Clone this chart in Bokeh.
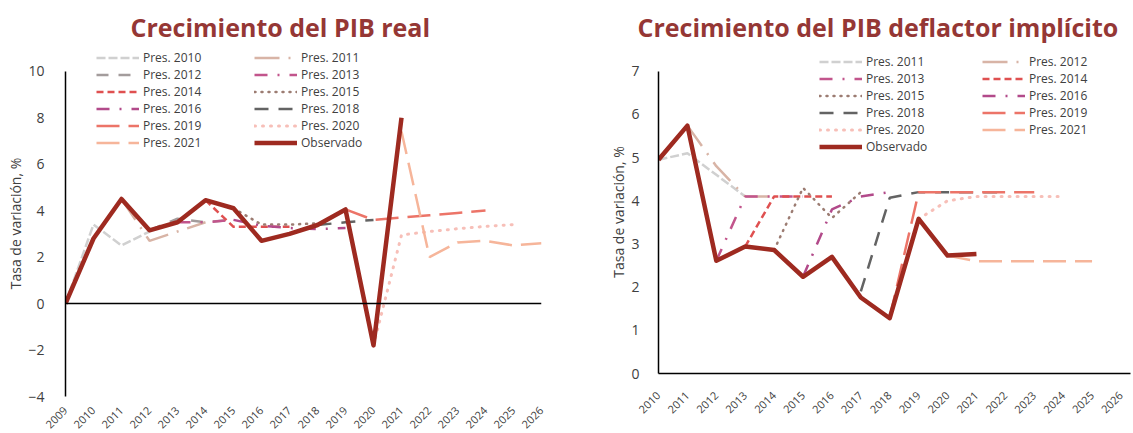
import math
from bokeh.plotting import figure
from bokeh.models import Legend, LegendItem, Span, FixedTicker
from bokeh.layouts import row
from bokeh.embed import file_html
from bokeh.resources import INLINE

# ---------------- Data: Crecimiento del PIB real ----------------
real_axis_years = list(range(2009, 2027))
real_yticks = [-4, -2, 0, 2, 4, 6, 8, 10]

real_obs_years = list(range(2009, 2022))
real_obs = [0.0, 2.8, 4.5, 3.15, 3.5, 4.45, 4.1, 2.7, 3.0, 3.38, 4.05, -1.8, 8.0]

real_p2010_years = [2009, 2010, 2011, 2012]
real_p2010 = [0.0, 3.4, 2.5, 3.1]
real_p2011_years = [2011, 2012, 2013, 2014]
real_p2011 = [4.5, 2.7, 3.1, 3.5]
real_p2012_years = [2012, 2013, 2014, 2015]
real_p2012 = [3.15, 3.65, 3.5, 3.6]
real_p2013_years = [2013, 2014, 2015]
real_p2013 = [3.5, 3.5, 3.6]
real_p2014_years = [2014, 2015, 2016, 2017]
real_p2014 = [4.45, 3.3, 3.3, 3.3]
real_p2015_years = [2015, 2016, 2017, 2018]
real_p2015 = [4.1, 3.4, 3.4, 3.45]
real_p2016_years = [2015, 2016, 2017, 2018, 2019]
real_p2016 = [3.6, 3.35, 3.25, 3.2, 3.25]
real_p2018_years = [2018, 2019, 2020]
real_p2018 = [3.38, 3.5, 3.6]
real_p2019_years = [2019, 2020, 2021, 2022, 2023, 2024]
real_p2019 = [4.05, 3.6, 3.7, 3.8, 3.9, 4.0]
real_p2020_years = [2020, 2021, 2022, 2023, 2024, 2025]
real_p2020 = [-1.8, 2.95, 3.1, 3.22, 3.32, 3.4]
real_p2021_years = [2021, 2022, 2023, 2024, 2025, 2026]
real_p2021 = [7.4, 2.0, 2.63, 2.7, 2.5, 2.6]

# ---------------- Data: Crecimiento del PIB deflactor implícito ----------------
defl_axis_years = list(range(2010, 2027))
defl_yticks = [0, 1, 2, 3, 4, 5, 6, 7]

defl_obs_years = list(range(2010, 2022))
defl_obs = [4.95, 5.74, 2.61, 2.94, 2.86, 2.24, 2.70, 1.76, 1.28, 3.58, 2.73, 2.77]

defl_p2011_years = [2010, 2011, 2012, 2013]
defl_p2011 = [4.95, 5.1, 4.6, 4.1]
defl_p2012_years = [2011, 2012, 2013, 2014]
defl_p2012 = [5.74, 4.8, 4.1, 4.1]
defl_p2013_years = [2012, 2013, 2014, 2015]
defl_p2013 = [2.61, 4.1, 4.1, 4.1]
defl_p2014_years = [2013, 2014, 2015, 2016]
defl_p2014 = [2.94, 4.1, 4.1, 4.1]
defl_p2015_years = [2014, 2015, 2016, 2017]
defl_p2015 = [2.86, 4.3, 3.6, 4.2]
defl_p2016_years = [2015, 2016, 2017, 2018]
defl_p2016 = [2.24, 3.8, 4.1, 4.2]
defl_p2018_years = [2017, 2018, 2019, 2020, 2021, 2022]
defl_p2018 = [1.9, 4.07, 4.2, 4.2, 4.2, 4.2]
defl_p2019_years = [2018, 2019, 2020, 2021, 2022, 2023]
defl_p2019 = [1.3, 4.2, 4.2, 4.2, 4.2, 4.2]
defl_p2020_years = [2019, 2020, 2021, 2022, 2023, 2024]
defl_p2020 = [3.58, 4.0, 4.1, 4.1, 4.1, 4.1]
defl_p2021_years = [2020, 2021, 2022, 2023, 2024, 2025]
defl_p2021 = [2.73, 2.6, 2.6, 2.6, 2.6, 2.6]

# ---------------- Styles ----------------
FONT = "Open Sans"
TXT = "#404040"
STY = {
    "lgray":  dict(line_color="#D0D0D0", line_dash="9 3", line_width=2.5),
    "tan":    dict(line_color="#D8B4A6", line_dash="25 9 2 9", line_width=2.5),
    "mgray":  dict(line_color="#A39C9C", line_dash="12 10", line_width=2.5),
    "mag1":   dict(line_color="#C2558C", line_dash="13 10 2 10", line_width=2.5),
    "red":    dict(line_color="#DF5050", line_dash="7 4", line_width=2.5),
    "brown":  dict(line_color="#9C7C72", line_dash="1 6", line_width=2.5, line_cap="round"),
    "mag2":   dict(line_color="#B24A8A", line_dash="13 10 2 10", line_width=2.5),
    "dgray":  dict(line_color="#636363", line_dash="14 10", line_width=2.5),
    "salmon": dict(line_color="#EC7468", line_dash="23 9", line_width=2.5),
    "pink":   dict(line_color="#F7BFB8", line_dash="1 7", line_width=3, line_cap="round"),
    "peach":  dict(line_color="#F6B59A", line_dash="23 9", line_width=2.5),
    "obs":    dict(line_color="#9E2A20", line_width=4.5, line_join="round"),
}


def make_fig(title, xr, yr, ybounds, xticks, yticks, frame_w, frame_h, bl, br, bb,
             title_offset, xlab_standoff, ylab_standoff, xaxis_line):
    p = figure(x_range=xr, y_range=yr,
               frame_width=frame_w, frame_height=frame_h,
               output_backend="svg", toolbar_location=None,
               min_border_left=bl, min_border_right=br, min_border_top=50,
               min_border_bottom=bb)
    p.title.text = title
    p.title.text_font = FONT
    p.title.text_font_size = "25px"
    p.title.text_font_style = "bold"
    p.title.text_color = "#953735"
    p.title.align = "left"
    p.title.offset = title_offset
    p.title.standoff = 14
    p.outline_line_color = None
    p.xgrid.visible = False
    p.ygrid.visible = False
    p.background_fill_color = "white"

    p.xaxis.ticker = FixedTicker(ticks=xticks)
    p.xaxis.major_label_orientation = math.pi / 4
    p.xaxis.major_label_text_font = FONT
    p.xaxis.major_label_text_font_size = "11px"
    p.xaxis.major_label_text_color = TXT
    p.xaxis.major_tick_line_color = None
    p.xaxis.minor_tick_line_color = None
    p.xaxis.major_label_standoff = xlab_standoff
    if xaxis_line:
        p.xaxis.axis_line_color = "black"
        p.xaxis.axis_line_width = 1.5
    else:
        p.xaxis.axis_line_color = None

    p.yaxis.ticker = FixedTicker(ticks=yticks)
    p.yaxis.bounds = ybounds
    p.yaxis.major_label_text_font = FONT
    p.yaxis.major_label_text_font_size = "14px"
    p.yaxis.major_label_text_color = TXT
    p.yaxis.major_tick_line_color = None
    p.yaxis.minor_tick_line_color = None
    p.yaxis.major_label_standoff = ylab_standoff
    p.yaxis.axis_line_color = "black"
    p.yaxis.axis_line_width = 1.5
    p.yaxis.axis_label = "Tasa de variación, %"
    p.yaxis.axis_label_text_font = FONT
    p.yaxis.axis_label_text_font_size = "14px"
    p.yaxis.axis_label_text_font_style = "normal"
    p.yaxis.axis_label_text_color = TXT
    p.yaxis.axis_label_standoff = 0
    return p


def add_legend(p, items, loc):
    lg = Legend(items=items, location=loc, orientation="vertical",
                glyph_width=43, glyph_height=15, label_height=15, spacing=0,
                padding=0, margin=0, label_standoff=4,
                border_line_color=None, background_fill_alpha=0,
                label_text_font=FONT, label_text_font_size="12px",
                label_text_color=TXT)
    p.add_layout(lg)


# ---------------- Left chart ----------------
p1 = make_fig("Crecimiento del PIB real", (2009, 2026), (-4, 10.89), (-4, 10),
              real_axis_years, real_yticks, 476, 346, 65, 22, 33, 65, 6, 15, False)
p1.add_layout(Span(location=0, dimension="width", line_color="black", line_width=1.5))

real_series = [
    ("Pres. 2010", real_p2010_years, real_p2010, "lgray"),
    ("Pres. 2011", real_p2011_years, real_p2011, "tan"),
    ("Pres. 2012", real_p2012_years, real_p2012, "mgray"),
    ("Pres. 2013", real_p2013_years, real_p2013, "mag1"),
    ("Pres. 2014", real_p2014_years, real_p2014, "red"),
    ("Pres. 2015", real_p2015_years, real_p2015, "brown"),
    ("Pres. 2016", real_p2016_years, real_p2016, "mag2"),
    ("Pres. 2018", real_p2018_years, real_p2018, "dgray"),
    ("Pres. 2019", real_p2019_years, real_p2019, "salmon"),
    ("Pres. 2020", real_p2020_years, real_p2020, "pink"),
    ("Pres. 2021", real_p2021_years, real_p2021, "peach"),
    ("Observado", real_obs_years, real_obs, "obs"),
]
r1 = {}
for lab, xs, ys, st in real_series:
    r1[lab] = p1.line(xs, ys, **STY[st])

col_a = ["Pres. 2010", "Pres. 2012", "Pres. 2014", "Pres. 2016", "Pres. 2019", "Pres. 2021"]
col_b = ["Pres. 2011", "Pres. 2013", "Pres. 2015", "Pres. 2018", "Pres. 2020", "Observado"]
add_legend(p1, [LegendItem(label=l, renderers=[r1[l]]) for l in col_a], (31, 245))
add_legend(p1, [LegendItem(label=l, renderers=[r1[l]]) for l in col_b], (189, 245))

# ---------------- Right chart ----------------
p2 = make_fig("Crecimiento del PIB deflactor implícito", (2010, 2026.33), (0, 7.48), (0, 7),
              defl_axis_years, defl_yticks, 472, 323, 95, 1, 56, -21, 14, 13, True)

defl_series = [
    ("Pres. 2011", defl_p2011_years, defl_p2011, "lgray"),
    ("Pres. 2012", defl_p2012_years, defl_p2012, "tan"),
    ("Pres. 2013", defl_p2013_years, defl_p2013, "mag1"),
    ("Pres. 2014", defl_p2014_years, defl_p2014, "red"),
    ("Pres. 2015", defl_p2015_years, defl_p2015, "brown"),
    ("Pres. 2016", defl_p2016_years, defl_p2016, "mag2"),
    ("Pres. 2018", defl_p2018_years, defl_p2018, "dgray"),
    ("Pres. 2019", defl_p2019_years, defl_p2019, "salmon"),
    ("Pres. 2020", defl_p2020_years, defl_p2020, "pink"),
    ("Pres. 2021", defl_p2021_years, defl_p2021, "peach"),
    ("Observado", defl_obs_years, defl_obs, "obs"),
]
r2 = {}
for lab, xs, ys, st in defl_series:
    r2[lab] = p2.line(xs, ys, **STY[st])

col_c = ["Pres. 2011", "Pres. 2013", "Pres. 2015", "Pres. 2018", "Pres. 2020", "Observado"]
col_d = ["Pres. 2012", "Pres. 2014", "Pres. 2016", "Pres. 2019", "Pres. 2021"]
add_legend(p2, [LegendItem(label=l, renderers=[r2[l]]) for l in col_c], (161, 218))
add_legend(p2, [LegendItem(label=l, renderers=[r2[l]]) for l in col_d], (324, 235))

layout = row(p1, p2)
open("out.html", "w").write(file_html(layout, INLINE))
